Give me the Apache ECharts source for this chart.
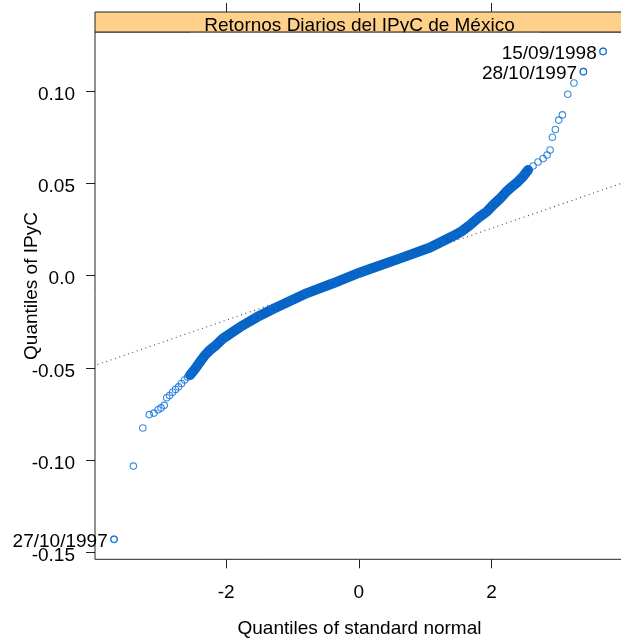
<!DOCTYPE html>
<html>
<head>
<meta charset="utf-8">
<script src="https://cdn.jsdelivr.net/npm/echarts@6/dist/echarts.min.js"></script>
<style>
html,body{margin:0;padding:0;background:#fff;}
#chart{width:621px;height:641px;}
</style>
</head>
<body>
<div id="chart"></div>
<script>
// ---- data ----
var stripTitle = 'Retornos Diarios del IPyC de México';
var xAxisTitle = 'Quantiles of standard normal';
var yAxisTitle = 'Quantiles of IPyC';

var xTicks = [-2, 0, 2];
var xTickLabels = ['-2', '0', '2'];
var yTicks = [-0.15, -0.10, -0.05, 0, 0.05, 0.10];
var yTickLabels = ['-0.15', '-0.10', '-0.05', '0.0', '0.05', '0.10'];

var xRange = [-3.976, 3.976];
var yRange = [-0.1536, 0.1320];

// sparse lower tail (theoretical quantile, sample quantile)
var lowerTailX = [-3.689, -3.398, -3.256, -3.158, -3.088, -3.026, -2.981, -2.932, -2.895, -2.852, -2.807, -2.762, -2.717, -2.672, -2.626, -2.581, -2.536];
var lowerTailY = [-0.1428, -0.1031, -0.0825, -0.0752, -0.0744, -0.0726, -0.0716, -0.0702, -0.0661, -0.0649, -0.0631, -0.0616, -0.0602, -0.0584, -0.0565, -0.0549, -0.0532];

// dense central band
var bandX = [-2.543, -2.468, -2.393, -2.317, -2.242, -2.166, -2.046, -1.790, -1.533, -1.292, -1.036, -0.779, -0.387, 0, 0.125, 0.623, 1.075, 1.226, 1.422, 1.557, 1.678, 1.799, 1.934, 2.025, 2.130, 2.236, 2.311, 2.402, 2.477, 2.552];
var bandY = [-0.0538, -0.0505, -0.0467, -0.0430, -0.0402, -0.0381, -0.0340, -0.0278, -0.0224, -0.0180, -0.0137, -0.0094, -0.0041, 0.0015, 0.0031, 0.0094, 0.0153, 0.0180, 0.0215, 0.0242, 0.0275, 0.0313, 0.0348, 0.0383, 0.0418, 0.0459, 0.0483, 0.0510, 0.0537, 0.0573];

// sparse upper tail
var upperTailX = [2.628, 2.703, 2.779, 2.839, 2.884, 2.919, 2.964, 3.015, 3.070, 3.151, 3.244, 3.386, 3.683];
var upperTailY = [0.0594, 0.0616, 0.0635, 0.0654, 0.0681, 0.0750, 0.0792, 0.0843, 0.0871, 0.0983, 0.1044, 0.1105, 0.1215];

// labelled extreme observations
var labelX = [-3.689, 3.386, 3.683];
var labelY = [-0.1428, 0.1105, 0.1215];
var labelText = ['27/10/1997', '28/10/1997', '15/09/1998'];

// qq reference line end points
var refLineX = [-4.2, 4.2];
var refLineY = [-0.0514, 0.0530];

// ---- build chart ----
function pairs(xs, ys) { return xs.map(function (x, i) { return [x, ys[i]]; }); }

var FONT = "'Liberation Sans', Arial, Helvetica, sans-serif";
var FS = 19;
var ptColor = '#0a70d8';
var bandColor = '#0864c4';
var SYM = 6.5;

var chart = echarts.init(document.getElementById('chart'), null, {renderer: 'canvas'});

var circleStyle = {color: 'transparent', borderColor: ptColor, borderWidth: 1.15};
var tickStyle = {color: '#222', width: 1};

var option = {
  animation: false,
  backgroundColor: '#ffffff',
  grid: {
    left: 95, top: 32, width: 527.5, height: 527.3,
    show: true, borderColor: '#222', borderWidth: 1, backgroundColor: 'transparent',
    outerBoundsMode: 'none'
  },
  xAxis: [{
    type: 'value', min: xRange[0], max: xRange[1], position: 'bottom',
    axisLine: {show: false, onZero: false},
    splitLine: {show: false},
    axisTick: {show: true, inside: false, length: 9, lineStyle: tickStyle, customValues: xTicks},
    axisLabel: {
      show: true, margin: 24, color: '#000', fontFamily: FONT, fontSize: FS,
      customValues: xTicks,
      formatter: function (v) { var i = xTicks.indexOf(v); return i >= 0 ? xTickLabels[i] : ''; }
    }
  }, {
    type: 'value', min: xRange[0], max: xRange[1], position: 'top', offset: 20,
    axisLine: {show: false, onZero: false},
    splitLine: {show: false},
    axisTick: {show: true, inside: false, length: 9, lineStyle: tickStyle, customValues: xTicks},
    axisLabel: {show: false}
  }],
  yAxis: {
    type: 'value', min: yRange[0], max: yRange[1], position: 'left',
    axisLine: {show: false, onZero: false},
    splitLine: {show: false},
    axisTick: {show: true, inside: false, length: 9, lineStyle: tickStyle, customValues: yTicks},
    axisLabel: {
      show: true, margin: 20, color: '#000', fontFamily: FONT, fontSize: FS,
      verticalAlign: 'top', lineHeight: 7,
      customValues: yTicks,
      formatter: function (v) {
        for (var i = 0; i < yTicks.length; i++) { if (Math.abs(yTicks[i] - v) < 1e-9) return yTickLabels[i]; }
        return '';
      }
    }
  },
  series: [
    {
      type: 'line', data: pairs(refLineX, refLineY), symbol: 'none', silent: true, clip: true,
      lineStyle: {color: '#444', width: 1.1, type: [1, 3.6]}, z: 1
    },
    {
      type: 'line', data: pairs(bandX, bandY), symbol: 'none', silent: true, clip: true,
      lineStyle: {color: bandColor, width: 10, cap: 'round', join: 'round'}, z: 2
    },
    {
      type: 'scatter', data: pairs(bandX, bandY), symbol: 'circle', symbolSize: SYM,
      itemStyle: circleStyle, z: 3
    },
    {
      type: 'scatter', data: pairs(lowerTailX, lowerTailY), symbol: 'circle', symbolSize: SYM,
      itemStyle: circleStyle, z: 3
    },
    {
      type: 'scatter', data: pairs(upperTailX, upperTailY), symbol: 'circle', symbolSize: SYM,
      itemStyle: circleStyle, z: 3
    },
    {
      type: 'scatter', symbol: 'circle', symbolSize: SYM, itemStyle: circleStyle, z: 4,
      data: labelX.map(function (x, i) {
        return {value: [x, labelY[i]], label: {show: true, formatter: labelText[i]}};
      }),
      label: {position: 'left', distance: 2.5, offset: [0, 2.5], color: '#000', opacity: 1,
        textBorderWidth: 0, textBorderColor: 'transparent', fontFamily: FONT, fontSize: FS}
    }
  ],
  graphic: [
    {type: 'rect', z: 100, shape: {x: 95, y: 12, width: 540, height: 20},
      style: {fill: '#ffd08a', stroke: null}},
    {type: 'text', z: 101, x: 359.5, y: 25.3,
      style: {text: stripTitle, font: FS + 'px ' + FONT, fill: '#000', align: 'center', verticalAlign: 'middle'}},
    {type: 'rect', z: 102, shape: {x: 190, y: 32.5, width: 350, height: 6}, style: {fill: '#ffffff'}},
    {type: 'rect', z: 103, shape: {x: 95, y: 12, width: 540, height: 20},
      style: {fill: null, stroke: '#222', lineWidth: 1}},
    {type: 'text', z: 101, x: 359.5, y: 628.5,
      style: {text: xAxisTitle, font: FS + 'px ' + FONT, fill: '#000', align: 'center', verticalAlign: 'middle'}},
    {type: 'text', z: 101, x: 31.5, y: 286, rotation: Math.PI / 2,
      style: {text: yAxisTitle, font: FS + 'px ' + FONT, fill: '#000', align: 'center', verticalAlign: 'middle'}}
  ]
};
chart.setOption(option);
</script>
</body>
</html>
